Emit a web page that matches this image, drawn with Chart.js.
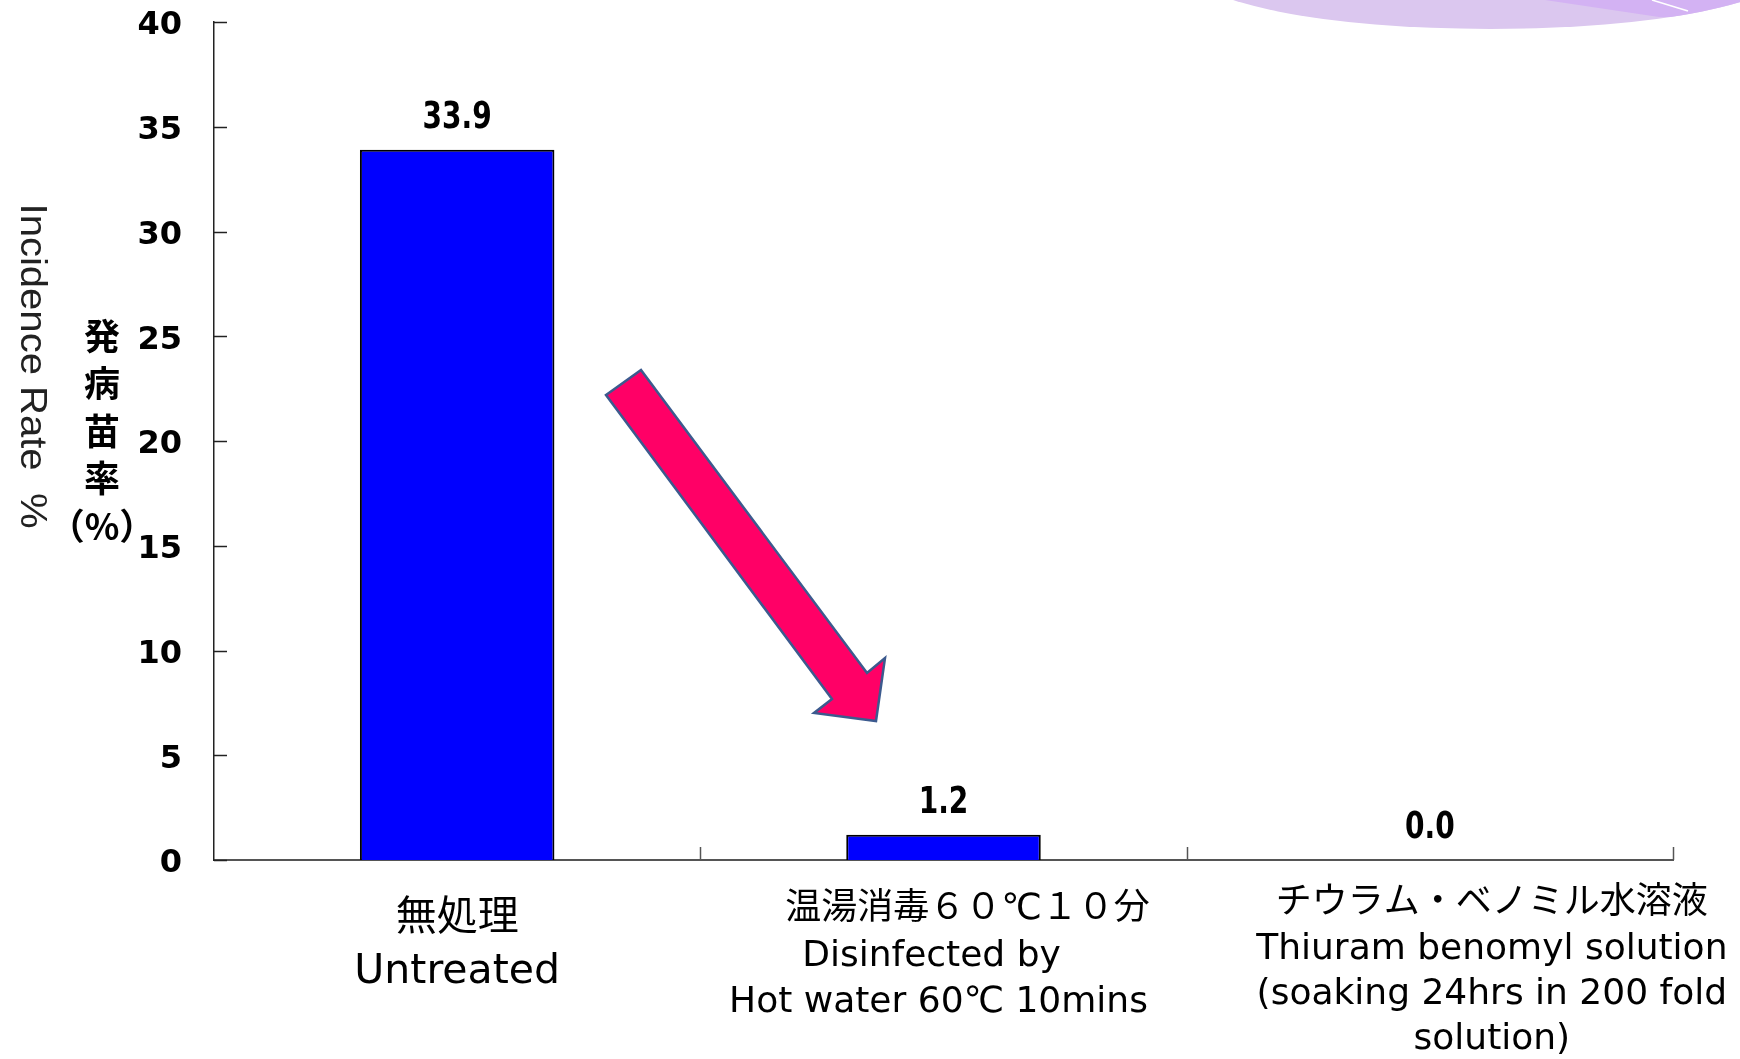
<!DOCTYPE html>
<html>
<head>
<meta charset="utf-8">
<script src="https://cdn.jsdelivr.net/npm/chart.js@4/dist/chart.umd.min.js"></script>
<style>
  html, body { margin: 0; padding: 0; background: #ffffff; }
  #wrap { position: relative; width: 1740px; height: 1059px; overflow: hidden; background: #ffffff; }
  #wrap svg, #wrap canvas { position: absolute; left: 0; top: 0; }
  #arrow { pointer-events: none; }
</style>
</head>
<body>
<div id="wrap">
  <!-- slide decoration in the top-right corner -->
  <svg id="deco" width="1740" height="1059">
    <defs>
      <clipPath id="lens"><ellipse cx="1490" cy="-31" rx="300" ry="60"/></clipPath>
    </defs>
    <ellipse cx="1490" cy="-31" rx="300" ry="60" fill="#dbc7ef"/>
    <polygon points="1545,0 1659,17 1800,17 1800,0" fill="#d3b2f3" clip-path="url(#lens)"/>
    <line x1="1652" y1="0" x2="1688" y2="11" stroke="#ffffff" stroke-width="1.5" clip-path="url(#lens)"/>
  </svg>
  <canvas id="chart" width="1740" height="1059"></canvas>
  <!-- emphasis arrow pointing at the treated result -->
  <svg id="arrow" width="1740" height="1059">
    <polygon points="606,395 641,370 867,673 885,658 876,721 814,713 832,699"
             fill="#ff0066" stroke="#3c5a8e" stroke-width="2.5" stroke-linejoin="miter"/>
  </svg>
</div>
<script>
// Treatment groups (each entry is the multi-line axis label)
const categories = [
  ['無処理', 'Untreated'],
  ['温湯消毒６０℃１０分', 'Disinfected by', 'Hot water 60℃ 10mins'],
  ['チウラム・ベノミル水溶液', 'Thiuram benomyl solution', '(soaking 24hrs in 200 fold', 'solution)']
];
// Incidence of diseased seedlings (%)
const incidence = [33.9, 1.2, 0.0];
// Value axis range and step
const yMin = 0;
const yMax = 40;
const yStep = 5;
// Axis titles
const yTitleEn = 'Incidence Rate  %';
const yTitleJa = ['発', '病', '苗', '率', '（%）'];

// Per-category label layout: font size, first-line offset below axis, line height, x shift
const labelStyle = [
  { size: 41, top: 59, lh: 53, dx: [0, 0] },
  { size: 36, top: 50, lh: 46.5, dx: [24, -12, -5] },
  { size: 36, top: 44, lh: 45.3, dx: [62, 62, 62, 62] }
];

const TEXT_FONT = '"DejaVu Sans", "Noto Sans CJK JP", sans-serif';

// Draws x-axis category labels, value labels, inward tick marks and axis titles
const decorations = {
  id: 'decorations',
  afterDraw(chart) {
    const ctx = chart.ctx;
    const area = chart.chartArea;
    const xs = chart.scales.x;
    const ys = chart.scales.y;

    ctx.save();
    // inward tick marks on the value axis
    ctx.strokeStyle = '#222';
    ctx.lineWidth = 1.5;
    for (let v = yMin; v <= yMax; v += yStep) {
      const py = Math.round(ys.getPixelForValue(v)) + 0.5;
      ctx.beginPath();
      ctx.moveTo(area.left, py);
      ctx.lineTo(area.left + 13, py);
      ctx.stroke();
    }
    // category boundary marks on the category axis
    ctx.strokeStyle = '#555';
    for (let i = 1; i <= categories.length; i++) {
      const px = i < categories.length
        ? (xs.getPixelForValue(i - 1) + xs.getPixelForValue(i)) / 2
        : area.right;
      const rx = Math.round(px) + 0.5;
      ctx.beginPath();
      ctx.moveTo(rx, area.bottom);
      ctx.lineTo(rx, area.bottom - 13);
      ctx.stroke();
    }

    // category labels
    ctx.fillStyle = '#000';
    ctx.textAlign = 'center';
    ctx.textBaseline = 'middle';
    categories.forEach((lines, i) => {
      const st = labelStyle[i];
      const cx = xs.getPixelForValue(i);
      ctx.font = st.size + 'px ' + TEXT_FONT;
      lines.forEach((line, j) => {
        ctx.fillText(line, cx + (st.dx[j] || 0), area.bottom + st.top + j * st.lh);
      });
    });

    // value labels above each bar
    const meta = chart.getDatasetMeta(0);
    ctx.font = 'bold 38px "DejaVu Sans Condensed", "DejaVu Sans", sans-serif';
    meta.data.forEach((bar, i) => {
      const txt = incidence[i].toFixed(1);
      ctx.save();
      ctx.translate(bar.x, bar.y - 32);
      ctx.scale(0.82, 1);
      ctx.fillText(txt, 0, 0);
      ctx.restore();
    });

    // English axis title, reading top to bottom
    ctx.save();
    ctx.fillStyle = '#222';
    ctx.font = '37px "Liberation Sans", sans-serif';
    ctx.translate(31, 366);
    ctx.rotate(Math.PI / 2);
    const w = ctx.measureText(yTitleEn).width;
    ctx.scale(325 / w, 1);
    ctx.fillText(yTitleEn, 0, 0);
    ctx.restore();

    // Japanese axis title, stacked vertically
    ctx.fillStyle = '#000';
    ctx.font = 'bold 36px "Noto Sans CJK JP", sans-serif';
    yTitleJa.forEach((ch, k) => {
      ctx.fillText(ch, 102, 336 + k * 47.5);
    });
    ctx.restore();
  }
};

new Chart(document.getElementById('chart'), {
  type: 'bar',
  data: {
    labels: categories.map(c => c.join(' ')),
    datasets: [{
      data: incidence,
      backgroundColor: '#0000ff',
      borderColor: '#000000',
      borderWidth: 2,
      borderSkipped: 'bottom',
      categoryPercentage: 1.0,
      barPercentage: 0.4
    }]
  },
  options: {
    responsive: false,
    animation: false,
    devicePixelRatio: 1,
    layout: { padding: { top: 22, right: 67, left: 0, bottom: 0 } },
    plugins: {
      legend: { display: false },
      tooltip: { enabled: false },
      title: { display: false }
    },
    scales: {
      x: {
        grid: { display: false, drawTicks: false },
        border: { display: true, color: '#555', width: 2 },
        ticks: { display: false },
        afterFit(s) { s.height = 199; s.paddingLeft = 0; s.paddingRight = 0; }
      },
      y: {
        min: yMin,
        max: yMax,
        grid: { display: false, drawTicks: false },
        border: { display: true, color: '#222', width: 1.5 },
        ticks: {
          stepSize: yStep,
          padding: 32,
          labelOffset: 4,
          color: '#000',
          font: { family: '"DejaVu Sans", sans-serif', weight: 'bold', size: 32 }
        },
        afterFit(s) { s.width = 214; s.paddingTop = 0; s.paddingBottom = 0; }
      }
    }
  },
  plugins: [decorations]
});
</script>
</body>
</html>
